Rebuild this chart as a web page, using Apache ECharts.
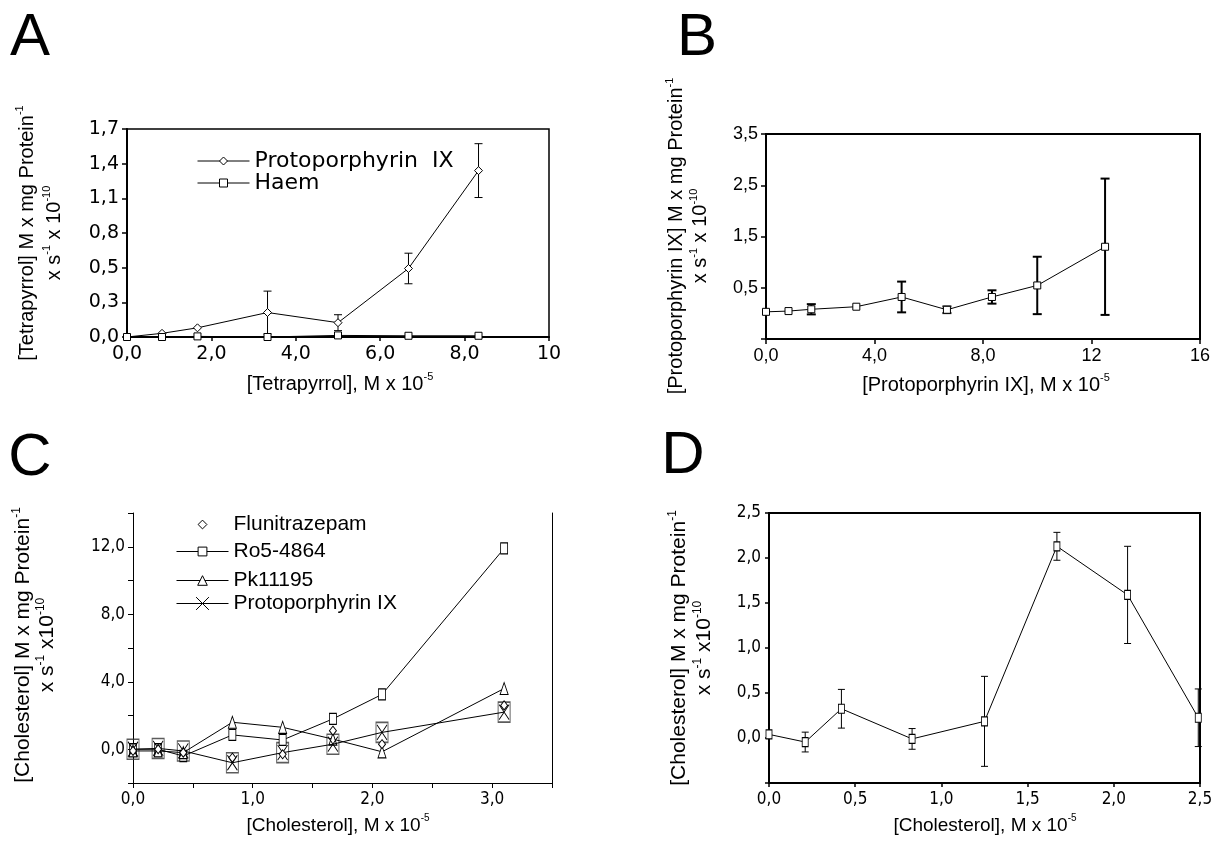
<!DOCTYPE html>
<html><head><meta charset="utf-8">
<script src="https://cdn.jsdelivr.net/npm/echarts@6/dist/echarts.min.js"></script>
<style>html,body{margin:0;padding:0;background:#fff}#c{width:1230px;height:852px}</style>
</head><body><div id="c"></div>
<script>
// ---------- Panel A ----------
const aX = [0, 0.83, 1.67, 3.33, 5.0, 6.67, 8.33];
const aProto = [0.0, 0.03, 0.075, 0.2, 0.117, 0.56, 1.36];
const aProtoErr = [0, 0, 0, 0.175, 0.065, 0.125, 0.22];
const aHaem = [0.0, 0.0, 0.005, 0.0, 0.013, 0.01, 0.01];
const aXTicks = ['0,0', '2,0', '4,0', '6,0', '8,0', '10'];
const aYTicks = ['0,0', '0,3', '0,5', '0,8', '1,1', '1,4', '1,7'];
// ---------- Panel B ----------
const bX = [0, 0.83, 1.67, 3.33, 5.0, 6.67, 8.33, 10.0, 12.5];
const bY = [0.03, 0.045, 0.08, 0.13, 0.32, 0.07, 0.32, 0.545, 1.3];
const bErr = [0, 0, 0.1, 0, 0.3, 0.065, 0.13, 0.56, 1.33];
const bXTicks = ['0,0', '4,0', '8,0', '12', '16'];
const bYTicks = ['', '0,5', '1,5', '2,5', '3,5'];
// ---------- Panel C ----------
const cX = [0, 0.21, 0.42, 0.83, 1.25, 1.67, 2.08, 3.1];
const cFlu = [-0.1, 0.0, -0.2, -0.5, -0.3, 1.1, 0.3, 2.6];
const cRo5 = [0.0, 0.0, -0.4, 0.85, 0.55, 1.8, 3.25, 11.9];
const cPk = [-0.1, -0.1, -0.2, 1.6, 1.3, 0.6, -0.15, 3.6];
const cProto = [0.0, 0.05, -0.1, -0.8, -0.2, 0.3, 1.0, 2.2];
const cXTicks = ['0,0', '', '1,0', '', '2,0', '', '3,0', ''];
const cYTicks = ['', '0,0', '', '4,0', '', '8,0', '', '12,0', ''];
// ---------- Panel D ----------
const dX = [0, 0.21, 0.42, 0.83, 1.25, 1.67, 2.08, 2.49];
const dY = [0.04, -0.045, 0.325, -0.01, 0.185, 2.13, 1.59, 0.225];
const dErr = [0, 0.11, 0.215, 0.115, 0.5, 0.155, 0.54, 0.32];
const dXTicks = ['0,0', '0,5', '1,0', '1,5', '2,0', '2,5'];
const dYTicks = ['', '0,0', '0,5', '1,0', '1,5', '2,0', '2,5'];

const ARIAL = '"Liberation Sans", Arial, sans-serif';
const WIDE = '"DejaVu Sans", sans-serif';
const NARROW = '"Liberation Sans Narrow", "Arial Narrow", "DejaVu Sans Condensed", sans-serif';

const pts = (xs, ys) => xs.map((x, i) => [x, ys[i]]);
const errPts = (xs, ys, es) => xs.map((x, i) => [x, ys[i] - es[i], ys[i] + es[i]]).filter((d, i) => es[i] > 0);
const fmt = (arr, min, step) => (v) => { const k = Math.round((v - min) / step); return arr[k] !== undefined ? arr[k] : ''; };

function makeErr(half, lw) {
  return function (params, api) {
    const x = api.value(0), lo = api.value(1), hi = api.value(2);
    const a = api.coord([x, hi]), b = api.coord([x, lo]);
    const st = { stroke: '#000', lineWidth: lw };
    return { type: 'group', children: [
      { type: 'line', shape: { x1: a[0], y1: a[1], x2: b[0], y2: b[1] }, style: st },
      { type: 'line', shape: { x1: a[0] - half, y1: a[1], x2: a[0] + half, y2: a[1] }, style: st },
      { type: 'line', shape: { x1: b[0] - half, y1: b[1], x2: b[0] + half, y2: b[1] }, style: st }
    ] };
  };
}

function axisBase(lw, font, fs, tickLen, labels, min, step) {
  return {
    type: 'value', min: min, interval: step,
    axisLine: { show: true, onZero: false, lineStyle: { color: '#000', width: lw } },
    axisTick: { show: true, length: tickLen, lineStyle: { color: '#000', width: lw > 1 ? 1.5 : 1 } },
    axisLabel: { fontFamily: font, fontSize: fs, color: '#000', formatter: fmt(labels, min, step), hideOverlap: false },
    splitLine: { show: false }
  };
}

function richT(fs, fam) {
  return {
    n: { fontSize: fs, fontFamily: fam, fill: '#000', lineHeight: fs + 6 },
    s: { fontSize: Math.round(fs * 0.55), fontFamily: fam, fill: '#000', verticalAlign: 'top', lineHeight: Math.round(fs * 0.6) }
  };
}
function title(text, x, y, fs, rot, lh) {
  const r = richT(fs, ARIAL);
  if (lh) r.n.lineHeight = lh;
  return { type: 'text', x: x, y: y, rotation: rot ? Math.PI / 2 : 0,
    style: { text: text, rich: r, align: 'center', verticalAlign: 'middle', fill: '#000' } };
}
function letter(t, x, y) {
  return { type: 'text', x: x, y: y, style: { text: t, fontSize: 60, fontFamily: ARIAL, fill: '#000', align: 'center', verticalAlign: 'middle' } };
}

const xA = axisBase(2, WIDE, 19, 4, aXTicks, 0, 2); xA.max = 10; xA.gridIndex = 0;
const yA = axisBase(2, WIDE, 19, 5, aYTicks, 0, 1.7 / 6); yA.max = 1.7; yA.gridIndex = 0;
const xB = axisBase(2, ARIAL, 18, 5, bXTicks, 0, 4); xB.max = 16; xB.gridIndex = 1;
const yB = axisBase(2, ARIAL, 18, 5, bYTicks, -0.5, 1); yB.max = 3.5; yB.gridIndex = 1;
const xC = axisBase(1, NARROW, 17, 5, cXTicks, 0, 0.5); xC.max = 3.5; xC.gridIndex = 2;
const yC = axisBase(1, NARROW, 17, 5, cYTicks, -2, 2); yC.max = 14; yC.gridIndex = 2;
const yC2 = { type: 'value', gridIndex: 2, position: 'right', min: -2, max: 14, interval: 2,
  axisLine: { show: true, onZero: false, lineStyle: { color: '#000', width: 1 } },
  axisTick: { show: false }, axisLabel: { show: false }, splitLine: { show: false } };
const xD = axisBase(2, NARROW, 17, 4, dXTicks, 0, 0.5); xD.max = 2.5; xD.gridIndex = 3;
const yD = axisBase(2, NARROW, 17, 4, dYTicks, -0.5, 0.5); yD.max = 2.5; yD.gridIndex = 3;

const lineS = { color: '#000', width: 1 };
const itemS = { color: '#fff', borderColor: '#000', borderWidth: 1 };
const XPATH = 'path://M0,0L10,14M10,0L0,14';

const gridBox = { show: true, borderColor: '#000', borderWidth: 1.5, backgroundColor: '#fff', containLabel: false, outerBoundsMode: 'none' };

function leg(name, left, top, ih, fam, fs) {
  return { data: [name], left: left, top: top, padding: 0, itemWidth: 52, itemHeight: ih, selectedMode: false,
    lineStyle: { width: 1 }, itemStyle: { borderWidth: 1 },
    textStyle: { fontFamily: fam, fontSize: fs, color: '#000' } };
}

const option = {
  animation: false,
  backgroundColor: '#fff',
  grid: [
    Object.assign({ left: 127, top: 129, width: 422, height: 208 }, gridBox),
    Object.assign({ left: 766, top: 134, width: 434, height: 205 }, gridBox, { borderWidth: 2 }),
    { left: 133, top: 513, width: 419, height: 270, show: false, containLabel: false, outerBoundsMode: 'none' },
    Object.assign({ left: 769, top: 513, width: 431, height: 270 }, gridBox, { borderWidth: 2 })
  ],
  xAxis: [xA, xB, xC, xD],
  yAxis: [yA, yB, yC, yD, yC2],
  legend: [
    leg('Protoporphyrin  IX', 197, 150, 10, WIDE, 22),
    leg('Haem', 197, 172, 10, WIDE, 22),
    leg('Flunitrazepam', 176, 514, 11, ARIAL, 21),
    leg('Ro5-4864', 176, 541, 11, ARIAL, 21),
    leg('Pk11195', 176, 570, 12, ARIAL, 21),
    leg('Protoporphyrin IX', 176, 593, 16, ARIAL, 21)
  ],
  series: [
    // A
    { type: 'custom', name: 'errA', xAxisIndex: 0, yAxisIndex: 0, data: errPts(aX, aProto, aProtoErr),
      encode: { x: 0, y: [1, 2] }, renderItem: makeErr(4, 1), z: 2 },
    { type: 'line', name: 'Protoporphyrin  IX', xAxisIndex: 0, yAxisIndex: 0, data: pts(aX, aProto),
      symbol: 'diamond', symbolSize: 8, lineStyle: lineS, itemStyle: itemS, z: 3 },
    { type: 'line', name: 'Haem', xAxisIndex: 0, yAxisIndex: 0, data: pts(aX, aHaem),
      symbol: 'rect', symbolSize: 7, lineStyle: lineS, itemStyle: itemS, z: 4 },
    // B
    { type: 'custom', name: 'errB', xAxisIndex: 1, yAxisIndex: 1, data: errPts(bX, bY, bErr),
      encode: { x: 0, y: [1, 2] }, renderItem: makeErr(4.5, 2), z: 2 },
    { type: 'line', name: 'B', xAxisIndex: 1, yAxisIndex: 1, data: pts(bX, bY),
      symbol: 'rect', symbolSize: 7, lineStyle: lineS, itemStyle: itemS, z: 3 },
    // C
    { type: 'scatter', name: 'boxC', xAxisIndex: 2, yAxisIndex: 2, data: pts(cX, cProto), silent: true,
      symbol: 'rect', symbolSize: [12, 20], itemStyle: { color: 'rgba(0,0,0,0)', borderColor: '#333', borderWidth: 1.2 }, z: 2 },
    { type: 'line', name: 'Ro5-4864', xAxisIndex: 2, yAxisIndex: 2, data: pts(cX, cRo5),
      symbol: 'rect', symbolSize: [7, 11], lineStyle: lineS, itemStyle: itemS, z: 3 },
    { type: 'line', name: 'Pk11195', xAxisIndex: 2, yAxisIndex: 2, data: pts(cX, cPk),
      symbol: 'triangle', symbolSize: [8, 12], lineStyle: lineS, itemStyle: itemS, z: 3 },
    { type: 'line', name: 'Protoporphyrin IX', xAxisIndex: 2, yAxisIndex: 2, data: pts(cX, cProto),
      symbol: XPATH, symbolSize: [10, 15], lineStyle: lineS, itemStyle: itemS, z: 4 },
    { type: 'line', name: 'Flunitrazepam', xAxisIndex: 2, yAxisIndex: 2, data: pts(cX, cFlu),
      symbol: 'diamond', symbolSize: [7, 9], itemStyle: itemS, lineStyle: { width: 1, opacity: 0 }, z: 5 },
    // D
    { type: 'custom', name: 'errD', xAxisIndex: 3, yAxisIndex: 3, data: errPts(dX, dY, dErr),
      encode: { x: 0, y: [1, 2] }, renderItem: makeErr(3.5, 1), z: 2 },
    { type: 'line', name: 'D', xAxisIndex: 3, yAxisIndex: 3, data: pts(dX, dY),
      symbol: 'rect', symbolSize: [6, 9], lineStyle: lineS, itemStyle: itemS, z: 3 }
  ],
  graphic: [
    letter('A', 30, 38), letter('B', 697, 38), letter('C', 30, 458), letter('D', 683, 456),
    title('{n|[Tetrapyrrol], M x 10}{s|-5}', 340, 384, 20, false),
    title('{n|[Tetrapyrrol] M x mg Protein}{s|-1}\n{n|x s}{s|-1}{n| x 10}{s|-10}', 41, 233, 20, true, 27),
    title('{n|[Protoporphyrin IX], M x 10}{s|-5}', 986, 385, 20, false),
    title('{n|[Protoporphyrin IX] M x mg Protein}{s|-1}\n{n|x s}{s|-1}{n| x 10}{s|-10}', 688, 236, 20, true, 24),
    title('{n|[Cholesterol], M x 10}{s|-5}', 338, 826, 19, false),
    title('{n|[Cholesterol] M x mg Protein}{s|-1}\n{n|x s}{s|-1}{n| x10}{s|-10}', 35, 645, 21, true, 24),
    title('{n|[Cholesterol], M x 10}{s|-5}', 985, 826, 19, false),
    title('{n|[Cholesterol] M x mg Protein}{s|-1}\n{n|x s}{s|-1}{n| x10}{s|-10}', 692, 648, 21, true, 25)
  ]
};
const chart = echarts.init(document.getElementById('c'));
chart.setOption(option);
</script>
</body></html>
